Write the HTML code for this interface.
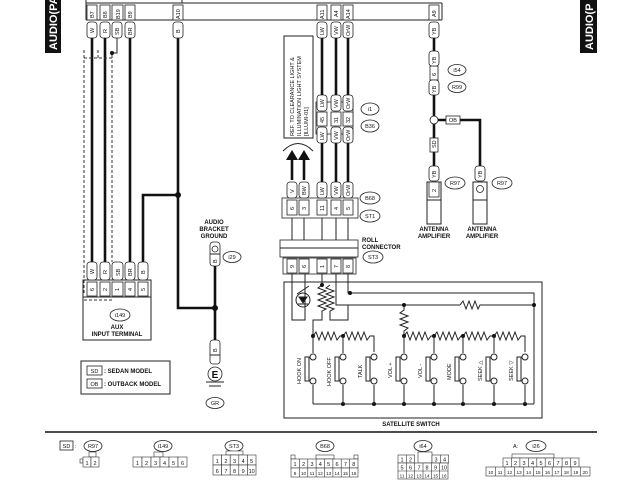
<!DOCTYPE html>
<html><head><meta charset="utf-8"><style>
html,body{margin:0;padding:0;background:#fff}
svg{display:block}
text{font-family:"Liberation Sans",sans-serif;fill:#111}
.t{font-size:6px;font-weight:bold}
.s{font-size:5.5px}
.l{fill:#fff;stroke:#222;stroke-width:0.8}
.w{stroke:#111;stroke-width:2.6;fill:none}
.n{stroke:#222;stroke-width:1;fill:none}
.g{fill:#fff;stroke:#333;stroke-width:0.6}
</style></head><body>
<svg width="640" height="480" viewBox="0 0 640 480" xmlns="http://www.w3.org/2000/svg">
<!-- side labels -->
<rect x="45" y="0" width="16" height="53" fill="#111"/>
<text transform="translate(57,50) rotate(-90)" style="font-size:11px;font-weight:bold;fill:#fff">AUDIO(PA</text>
<rect x="580" y="0" width="17" height="53" fill="#111"/>
<text transform="translate(593,50) rotate(-90)" style="font-size:11px;font-weight:bold;fill:#fff">AUDIO(P</text>

<!-- top connector bar -->
<line x1="86" y1="3" x2="442" y2="3" class="n"/>
<line x1="86" y1="20" x2="442" y2="20" class="n"/>
<line x1="86" y1="0" x2="86" y2="20" class="n"/>
<line x1="182" y1="0" x2="182" y2="3" class="n"/>
<line x1="442" y1="3" x2="442" y2="20" class="n"/>

<!-- wires -->
<g class="w">
<line x1="92" y1="38" x2="92" y2="262"/>
<line x1="105" y1="38" x2="105" y2="262"/>
<line x1="130" y1="38" x2="130" y2="262"/>
<polyline points="178,38 178,308 215,308"/>
<polyline points="178,195 143,195 143,262"/>
<line x1="215" y1="265" x2="215" y2="345"/>
<line x1="322" y1="38" x2="322" y2="182"/>
<line x1="336" y1="38" x2="336" y2="182"/>
<line x1="348" y1="38" x2="348" y2="182"/>
<line x1="434" y1="38" x2="434" y2="175"/>
<polyline points="438,120 480,120 480,175"/>
<line x1="292" y1="180" x2="292" y2="160"/>
<line x1="304" y1="180" x2="304" y2="160"/>
</g>
<polygon points="286,160 298,160 292,150" fill="#111"/>
<polygon points="298,160 310,160 304,150" fill="#111"/>
<path d="M283,151 Q298,136 313,151" class="n" stroke-width="0.6"/>
<!-- dashed SB -->
<g stroke="#333" stroke-width="1" stroke-dasharray="3,2" fill="none">
<line x1="84" y1="50" x2="84" y2="295"/>
<line x1="112" y1="55" x2="112" y2="262"/>
<polyline points="84,58 112,58"/>
<line x1="98" y1="50" x2="98" y2="58"/>
<polyline points="84,300 112,300"/>
</g>
<polyline points="117,38 117,53 112,53" class="n"/>
<circle cx="112" cy="53" r="2" fill="#111"/>
<circle cx="178" cy="195" r="3" fill="#111"/>
<circle cx="215" cy="308" r="3" fill="#111"/>

<!-- top wire labels -->
<g>
<rect x="87" y="5" width="10" height="15" class="l"/><text transform="translate(94,18) rotate(-90)" class="s">B7</text>
<rect x="100" y="5" width="10" height="15" class="l"/><text transform="translate(107,18) rotate(-90)" class="s">B8</text>
<rect x="112" y="5" width="11" height="15" class="l"/><text transform="translate(120,19) rotate(-90)" class="s">B19</text>
<rect x="125" y="5" width="10" height="15" class="l"/><text transform="translate(132,18) rotate(-90)" class="s">B9</text>
<rect x="173" y="5" width="10" height="15" class="l"/><text transform="translate(180,19) rotate(-90)" class="s">A10</text>
<rect x="317" y="5" width="10" height="15" class="l"/><text transform="translate(324,19) rotate(-90)" class="s">A11</text>
<rect x="331" y="5" width="10" height="15" class="l"/><text transform="translate(338,17) rotate(-90)" class="s">A4</text>
<rect x="343" y="5" width="10" height="15" class="l"/><text transform="translate(350,19) rotate(-90)" class="s">A14</text>
<rect x="429" y="5" width="10" height="15" class="l"/><text transform="translate(436,17) rotate(-90)" class="s">A9</text>
<rect x="87" y="22" width="10" height="16" rx="3" class="l"/><text transform="translate(94,33) rotate(-90)" class="s">W</text>
<rect x="100" y="22" width="10" height="16" rx="3" class="l"/><text transform="translate(107,33) rotate(-90)" class="s">R</text>
<rect x="112" y="22" width="10" height="16" rx="3" class="l"/><text transform="translate(119,35) rotate(-90)" class="s">SB</text>
<rect x="125" y="22" width="10" height="16" rx="3" class="l"/><text transform="translate(132,35) rotate(-90)" class="s">BR</text>
<rect x="173" y="22" width="10" height="16" rx="3" class="l"/><text transform="translate(180,33) rotate(-90)" class="s">B</text>
<rect x="317" y="22" width="10" height="16" rx="3" class="l"/><text transform="translate(324,35) rotate(-90)" class="s">LW</text>
<rect x="331" y="22" width="10" height="16" rx="3" class="l"/><text transform="translate(338,35) rotate(-90)" class="s">VW</text>
<rect x="343" y="22" width="10" height="16" rx="3" class="l"/><text transform="translate(350,36) rotate(-90)" class="s">OrW</text>
<rect x="429" y="22" width="10" height="16" rx="3" class="l"/><text transform="translate(436,35) rotate(-90)" class="s">YB</text>
</g>

<!-- ref box -->
<rect x="284" y="36" width="29" height="102" class="n" fill="#fff"/>
<text transform="translate(294,136) rotate(-90)" class="s">REF. TO CLEARANCE LIGHT &amp;</text>
<text transform="translate(301,136) rotate(-90)" class="s">ILLUMINATION LIGHT SYSTEM</text>
<text transform="translate(308,136) rotate(-90)" class="s">[ILLUMI-01]</text>

<!-- i1/B36 -->
<rect x="316" y="102" width="37" height="32" class="l"/>
<g>
<rect x="317" y="95" width="10" height="16" rx="3" class="l"/><text transform="translate(324,107) rotate(-90)" class="s">LW</text>
<rect x="331" y="95" width="10" height="16" rx="3" class="l"/><text transform="translate(338,108) rotate(-90)" class="s">VW</text>
<rect x="343" y="95" width="10" height="16" rx="3" class="l"/><text transform="translate(350,109) rotate(-90)" class="s">OrW</text>
<rect x="317" y="112" width="10" height="14" class="l"/><text transform="translate(324,123) rotate(-90)" class="s">45</text>
<rect x="331" y="112" width="10" height="14" class="l"/><text transform="translate(338,123) rotate(-90)" class="s">31</text>
<rect x="343" y="112" width="10" height="14" class="l"/><text transform="translate(350,123) rotate(-90)" class="s">32</text>
<rect x="317" y="127" width="10" height="16" rx="3" class="l"/><text transform="translate(324,140) rotate(-90)" class="s">LW</text>
<rect x="331" y="127" width="10" height="16" rx="3" class="l"/><text transform="translate(338,140) rotate(-90)" class="s">VW</text>
<rect x="343" y="127" width="10" height="16" rx="3" class="l"/><text transform="translate(350,141) rotate(-90)" class="s">OrW</text>
</g>
<ellipse cx="370" cy="109" rx="9" ry="6" class="l"/><text x="370" y="111" class="s" text-anchor="middle">i1</text>
<ellipse cx="370" cy="126" rx="9" ry="6" class="l"/><text x="370" y="128" class="s" text-anchor="middle">B36</text>

<!-- B68/ST1 -->
<rect x="282" y="198" width="76" height="20" class="l"/>
<g>
<rect x="287" y="182" width="10" height="16" rx="3" class="l"/><text transform="translate(294,193) rotate(-90)" class="s">V</text>
<rect x="299" y="182" width="10" height="16" rx="3" class="l"/><text transform="translate(306,195) rotate(-90)" class="s">BW</text>
<rect x="317" y="182" width="10" height="16" rx="3" class="l"/><text transform="translate(324,195) rotate(-90)" class="s">LW</text>
<rect x="331" y="182" width="10" height="16" rx="3" class="l"/><text transform="translate(338,195) rotate(-90)" class="s">VW</text>
<rect x="343" y="182" width="10" height="16" rx="3" class="l"/><text transform="translate(350,196) rotate(-90)" class="s">OrW</text>
<rect x="287" y="200" width="10" height="15" class="l"/><text transform="translate(294,210) rotate(-90)" class="s">6</text>
<rect x="299" y="200" width="10" height="15" class="l"/><text transform="translate(306,210) rotate(-90)" class="s">3</text>
<rect x="317" y="200" width="10" height="15" class="l"/><text transform="translate(324,211) rotate(-90)" class="s">11</text>
<rect x="331" y="200" width="10" height="15" class="l"/><text transform="translate(338,210) rotate(-90)" class="s">4</text>
<rect x="343" y="200" width="10" height="15" class="l"/><text transform="translate(350,210) rotate(-90)" class="s">5</text>
</g>
<ellipse cx="370" cy="198" rx="10" ry="6" class="l"/><text x="370" y="200" class="s" text-anchor="middle">B68</text>
<ellipse cx="370" cy="216" rx="10" ry="6" class="l"/><text x="370" y="218" class="s" text-anchor="middle">ST1</text>
<g class="n"><line x1="292" y1="218" x2="292" y2="240"/><line x1="304" y1="218" x2="304" y2="240"/><line x1="322" y1="218" x2="322" y2="240"/><line x1="336" y1="218" x2="336" y2="240"/><line x1="348" y1="218" x2="348" y2="240"/></g>
<rect x="280" y="240" width="78" height="17" class="l"/><line x1="280" y1="248" x2="358" y2="248" class="n"/>
<text x="362" y="242" class="t">ROLL</text><text x="362" y="249" class="t">CONNECTOR</text>
<ellipse cx="373" cy="257" rx="10" ry="6" class="l"/><text x="373" y="259" class="s" text-anchor="middle">ST3</text>
<rect x="283" y="258" width="73" height="16" class="l"/>
<g>
<rect x="287" y="259" width="10" height="14" class="l"/><text transform="translate(294,268) rotate(-90)" class="s">9</text>
<rect x="299" y="259" width="10" height="14" class="l"/><text transform="translate(306,268) rotate(-90)" class="s">6</text>
<rect x="317" y="259" width="10" height="14" class="l"/><text transform="translate(324,268) rotate(-90)" class="s">1</text>
<rect x="331" y="259" width="10" height="14" class="l"/><text transform="translate(338,268) rotate(-90)" class="s">7</text>
<rect x="343" y="259" width="10" height="14" class="l"/><text transform="translate(350,268) rotate(-90)" class="s">8</text>
</g>

<!-- satellite switch -->
<rect x="284" y="282" width="258" height="136" class="n"/>
<text x="411" y="426" class="t" text-anchor="middle">SATELLITE SWITCH</text>
<g class="n">
<polyline points="292,274 292,320 305,320 305,274"/>
<circle cx="303" cy="300" r="7"/>
<polygon points="299,297 307,297 303,303" fill="#111"/>
<line x1="298" y1="304" x2="308" y2="304"/>
<line x1="297" y1="294" x2="309" y2="286"/>
<polyline points="348,274 348,293 534,293 534,404"/>
<polyline points="336,274 336,305 460,305"/>
<polyline points="460,305 463,301 466,309 469,301 472,309 475,301 478,309 480,305 534,305"/>
<polyline points="322,274 322,285 318,288 326,291 318,294 326,297 318,300 326,303 318,306 326,309 322,311 322,320 313,320 313,336"/>
<polyline points="330,285 326,288 334,291 326,294 334,297 326,300 334,303 326,306 334,309 330,311 330,320 348,320 348,305"/>
<polyline points="404,305 404,310 400,313 408,316 400,319 408,322 400,325 408,328 404,331 404,336"/>
<polyline points="313,336 316,332 319,340 322,332 325,340 328,332 331,340 334,332 337,340 340,336 343,336"/>
<polyline points="343,336 346,332 349,340 352,332 355,340 358,332 361,340 364,332 367,340 370,336 374,336 374,352"/>
<polyline points="404,336 407,332 410,340 413,332 416,340 419,332 422,340 425,332 428,340 431,336 434,336"/>
<polyline points="434,336 437,332 440,340 443,332 446,340 449,332 452,340 455,332 458,340 461,336 463,336"/>
<polyline points="463,336 466,332 469,340 472,332 475,340 478,332 481,340 484,332 487,340 490,336 494,336"/>
<polyline points="494,336 497,332 500,340 503,332 506,340 509,332 512,340 515,332 518,340 521,336 525,336 525,352"/>
<line x1="313" y1="404" x2="534" y2="404"/>
</g>
<g fill="#111">
<circle cx="350" cy="293" r="2"/><circle cx="534" cy="305" r="2"/><circle cx="404" cy="305" r="2"/><circle cx="322" cy="285" r="2"/>
<circle cx="313" cy="336" r="2"/><circle cx="343" cy="336" r="2"/><circle cx="404" cy="336" r="2"/><circle cx="434" cy="336" r="2"/><circle cx="463" cy="336" r="2"/><circle cx="494" cy="336" r="2"/>
<circle cx="343" cy="404" r="2"/><circle cx="374" cy="404" r="2"/><circle cx="404" cy="404" r="2"/><circle cx="434" cy="404" r="2"/><circle cx="463" cy="404" r="2"/><circle cx="494" cy="404" r="2"/><circle cx="525" cy="404" r="2"/>
</g>
<!-- switches -->
<g class="n">
<line x1="313" y1="336" x2="313" y2="353"/><line x1="313" y1="385" x2="313" y2="404"/><circle cx="313" cy="357" r="3" fill="#fff"/><circle cx="313" cy="381" r="3" fill="#fff"/><rect x="305" y="357" width="4" height="24"/>
<line x1="343" y1="336" x2="343" y2="353"/><line x1="343" y1="385" x2="343" y2="404"/><circle cx="343" cy="357" r="3" fill="#fff"/><circle cx="343" cy="381" r="3" fill="#fff"/><rect x="335" y="357" width="4" height="24"/>
<line x1="374" y1="385" x2="374" y2="404"/><circle cx="374" cy="357" r="3" fill="#fff"/><circle cx="374" cy="381" r="3" fill="#fff"/><rect x="366" y="357" width="4" height="24"/>
<line x1="404" y1="336" x2="404" y2="353"/><line x1="404" y1="385" x2="404" y2="404"/><circle cx="404" cy="357" r="3" fill="#fff"/><circle cx="404" cy="381" r="3" fill="#fff"/><rect x="396" y="357" width="4" height="24"/>
<line x1="434" y1="336" x2="434" y2="353"/><line x1="434" y1="385" x2="434" y2="404"/><circle cx="434" cy="357" r="3" fill="#fff"/><circle cx="434" cy="381" r="3" fill="#fff"/><rect x="426" y="357" width="4" height="24"/>
<line x1="463" y1="336" x2="463" y2="353"/><line x1="463" y1="385" x2="463" y2="404"/><circle cx="463" cy="357" r="3" fill="#fff"/><circle cx="463" cy="381" r="3" fill="#fff"/><rect x="455" y="357" width="4" height="24"/>
<line x1="494" y1="336" x2="494" y2="353"/><line x1="494" y1="385" x2="494" y2="404"/><circle cx="494" cy="357" r="3" fill="#fff"/><circle cx="494" cy="381" r="3" fill="#fff"/><rect x="486" y="357" width="4" height="24"/>
<line x1="525" y1="385" x2="525" y2="404"/><circle cx="525" cy="357" r="3" fill="#fff"/><circle cx="525" cy="381" r="3" fill="#fff"/><rect x="517" y="357" width="4" height="24"/>
</g>
<text transform="translate(301,384) rotate(-90)" class="s">HOOK ON</text>
<text transform="translate(331,386) rotate(-90)" class="s">HOOK OFF</text>
<text transform="translate(362,378) rotate(-90)" class="s">TALK</text>
<text transform="translate(392,378) rotate(-90)" class="s">VOL +</text>
<text transform="translate(422,378) rotate(-90)" class="s">VOL -</text>
<text transform="translate(451,380) rotate(-90)" class="s">MODE</text>
<text transform="translate(482,381) rotate(-90)" class="s">SEEK △</text>
<text transform="translate(513,381) rotate(-90)" class="s">SEEK ▽</text>

<!-- antenna -->
<rect x="430" y="66" width="8" height="14" class="l" stroke-width="1.4"/><text transform="translate(436,76) rotate(-90)" class="s">6</text>
<rect x="429" y="51" width="10" height="15" rx="3" class="l"/><text transform="translate(436,64) rotate(-90)" class="s">YB</text>
<rect x="429" y="80" width="10" height="15" rx="3" class="l"/><text transform="translate(436,93) rotate(-90)" class="s">YB</text>
<ellipse cx="457" cy="70" rx="9" ry="5.5" class="l"/><text x="457" y="72" class="s" text-anchor="middle">i54</text>
<ellipse cx="457" cy="87" rx="9" ry="5.5" class="l"/><text x="457" y="89" class="s" text-anchor="middle">R99</text>
<circle cx="434" cy="120" r="4" class="l"/>
<rect x="446" y="116" width="14" height="8" class="l"/><text x="453" y="122" class="s" text-anchor="middle">OB</text>
<rect x="430" y="138" width="8" height="14" class="l" stroke-width="1.2"/><text transform="translate(436,148) rotate(-90)" class="s">SD</text>
<rect x="429" y="166" width="10" height="15" rx="3" class="l"/><text transform="translate(436,178) rotate(-90)" class="s">YB</text>
<rect x="475" y="166" width="10" height="15" rx="3" class="l"/><text transform="translate(482,178) rotate(-90)" class="s">YB</text>
<rect x="427" y="182" width="14" height="42" class="n" fill="#fff"/><rect x="429" y="182" width="10" height="15" class="l"/><text transform="translate(436,192) rotate(-90)" class="s">2</text>
<rect x="473" y="182" width="14" height="42" class="n" fill="#fff"/><circle cx="480" cy="189" r="3.5" class="l"/>
<line x1="427" y1="200" x2="441" y2="200" class="n"/><line x1="473" y1="200" x2="487" y2="200" class="n"/>
<ellipse cx="455" cy="183" rx="10" ry="6" class="l"/><text x="455" y="185" class="s" text-anchor="middle">R97</text>
<ellipse cx="502" cy="183" rx="10" ry="6" class="l"/><text x="502" y="185" class="s" text-anchor="middle">R97</text>
<text x="434" y="231" class="t" text-anchor="middle">ANTENNA</text><text x="434" y="238" class="t" text-anchor="middle">AMPLIFIER</text>
<text x="482" y="231" class="t" text-anchor="middle">ANTENNA</text><text x="482" y="238" class="t" text-anchor="middle">AMPLIFIER</text>

<!-- i149 block -->
<rect x="83" y="280" width="68" height="60" class="n" fill="#fff"/>
<line x1="83" y1="297" x2="151" y2="297" class="n"/>
<g>
<rect x="87" y="262" width="10" height="18" rx="3" class="l"/><text transform="translate(94,274) rotate(-90)" class="s">W</text>
<rect x="100" y="262" width="10" height="18" rx="3" class="l"/><text transform="translate(107,274) rotate(-90)" class="s">R</text>
<rect x="112" y="262" width="11" height="18" rx="3" class="l"/><text transform="translate(120,276) rotate(-90)" class="s">SB</text>
<rect x="125" y="262" width="10" height="18" rx="3" class="l"/><text transform="translate(132,276) rotate(-90)" class="s">BR</text>
<rect x="138" y="262" width="10" height="18" rx="3" class="l"/><text transform="translate(145,274) rotate(-90)" class="s">B</text>
<rect x="87" y="282" width="10" height="14" class="l"/><text transform="translate(94,291) rotate(-90)" class="s">6</text>
<rect x="100" y="282" width="10" height="14" class="l"/><text transform="translate(107,291) rotate(-90)" class="s">2</text>
<rect x="112" y="282" width="11" height="14" class="l"/><text transform="translate(119,291) rotate(-90)" class="s">1</text>
<rect x="125" y="282" width="10" height="14" class="l"/><text transform="translate(132,291) rotate(-90)" class="s">4</text>
<rect x="138" y="282" width="10" height="14" class="l"/><text transform="translate(145,291) rotate(-90)" class="s">5</text>
</g>
<ellipse cx="120" cy="315" rx="10" ry="6" class="l"/><text x="120" y="317" class="s" text-anchor="middle">i149</text>
<text x="117" y="329" class="t" text-anchor="middle">AUX</text>
<text x="117" y="336" class="t" text-anchor="middle">INPUT TERMINAL</text>

<!-- legend -->
<rect x="81" y="361" width="89" height="33" class="n" stroke-width="0.8"/>
<rect x="87" y="366" width="15" height="9" class="l"/><text x="94.5" y="373" class="s" text-anchor="middle">SD</text><text x="104" y="373" class="t">: SEDAN MODEL</text>
<rect x="87" y="379" width="15" height="9" class="l"/><text x="94.5" y="386" class="s" text-anchor="middle">OB</text><text x="104" y="386" class="t">: OUTBACK MODEL</text>

<!-- ground -->
<text x="214" y="224" class="t" text-anchor="middle">AUDIO</text>
<text x="214" y="231" class="t" text-anchor="middle">BRACKET</text>
<text x="214" y="238" class="t" text-anchor="middle">GROUND</text>
<rect x="210" y="242" width="10" height="24" rx="3" class="l"/><circle cx="215" cy="249" r="3" class="l"/><line x1="210" y1="254" x2="220" y2="254" class="n"/><text transform="translate(217,263) rotate(-90)" class="s">B</text>
<ellipse cx="232" cy="257" rx="9" ry="5.5" class="l"/><text x="232" y="259" class="s" text-anchor="middle">i29</text>
<rect x="210" y="340" width="10" height="24" rx="3" class="l"/><line x1="210" y1="355" x2="220" y2="355" class="n"/><text transform="translate(217,352) rotate(-90)" class="s">B</text>
<circle cx="215" cy="374" r="7" class="l" stroke-width="1.2"/><text x="215" y="378" style="font-size:10px;font-weight:bold" text-anchor="middle">E</text>
<line x1="206" y1="382" x2="224" y2="382" class="n"/><line x1="209" y1="386" x2="221" y2="386" class="n"/>
<ellipse cx="215" cy="403" rx="9" ry="5.5" class="l"/><text x="215" y="405" class="s" text-anchor="middle">GR</text>

<!-- bottom rule -->
<line x1="45" y1="432" x2="597" y2="432" stroke="#111" stroke-width="1.5"/>

<!-- bottom connectors -->
<rect x="60" y="441" width="13" height="9" class="l"/><text x="66.5" y="448" class="s" text-anchor="middle">SD</text><text x="75" y="448" class="s">:</text>
<ellipse cx="93" cy="446" rx="9" ry="5.5" class="l"/><text x="93" y="448" class="s" text-anchor="middle">R97</text>
<rect x="89" y="452" width="7" height="5" class="g"/><rect x="80" y="459" width="3" height="4" class="g"/>
<rect x="83" y="457" width="8" height="10" class="g"/><rect x="91" y="457" width="8" height="10" class="g"/>
<text x="87" y="465" class="s" text-anchor="middle">1</text><text x="95" y="465" class="s" text-anchor="middle">2</text>

<ellipse cx="163" cy="446" rx="9" ry="5.5" class="l"/><text x="163" y="448" class="s" text-anchor="middle">i149</text>
<rect x="154" y="452" width="9" height="5" class="g"/>
<g><rect x="133" y="457" width="9" height="10" class="g"/><rect x="142" y="457" width="9" height="10" class="g"/><rect x="151" y="457" width="9" height="10" class="g"/><rect x="160" y="457" width="9" height="10" class="g"/><rect x="169" y="457" width="9" height="10" class="g"/><rect x="178" y="457" width="9" height="10" class="g"/></g>
<text y="465" class="s" text-anchor="middle"><tspan x="137.5">1</tspan><tspan x="146.5">2</tspan><tspan x="155.5">3</tspan><tspan x="164.5">4</tspan><tspan x="173.5">5</tspan><tspan x="182.5">6</tspan></text>

<ellipse cx="234" cy="446" rx="9" ry="5.5" class="l"/><text x="234" y="448" class="s" text-anchor="middle">ST3</text>
<rect x="226" y="451" width="17" height="4" class="g" stroke-width="1"/>
<g><rect x="213" y="455" width="8.6" height="10" class="g"/><rect x="221.6" y="455" width="8.6" height="10" class="g"/><rect x="230.2" y="455" width="8.6" height="10" class="g"/><rect x="238.8" y="455" width="8.6" height="10" class="g"/><rect x="247.4" y="455" width="8.6" height="10" class="g"/>
<rect x="213" y="465" width="8.6" height="10" class="g"/><rect x="221.6" y="465" width="8.6" height="10" class="g"/><rect x="230.2" y="465" width="8.6" height="10" class="g"/><rect x="238.8" y="465" width="8.6" height="10" class="g"/><rect x="247.4" y="465" width="8.6" height="10" class="g"/></g>
<text y="463" class="s" text-anchor="middle"><tspan x="217.3">1</tspan><tspan x="225.9">2</tspan><tspan x="234.5">3</tspan><tspan x="243.1">4</tspan><tspan x="251.7">5</tspan></text>
<text y="473" class="s" text-anchor="middle"><tspan x="217.3">6</tspan><tspan x="225.9">7</tspan><tspan x="234.5">8</tspan><tspan x="243.1">9</tspan><tspan x="251.7">10</tspan></text>

<ellipse cx="325" cy="446" rx="9" ry="5.5" class="l"/><text x="325" y="448" class="s" text-anchor="middle">B68</text>
<rect x="291" y="455" width="4" height="4" class="g"/><rect x="354" y="455" width="4" height="4" class="g"/><rect x="316" y="455" width="18" height="4" class="g"/>
<g fill="#fff" stroke="#333" stroke-width="0.6">
<rect x="291" y="459" width="67" height="9"/><rect x="291" y="468" width="67" height="9"/>
<path d="M299.4,459V477M307.8,459V477M316.1,459V477M324.5,459V477M332.9,459V477M341.2,459V477M349.6,459V477"/></g>
<text y="466" class="s" text-anchor="middle"><tspan x="295">1</tspan><tspan x="303.5">2</tspan><tspan x="312">3</tspan><tspan x="320.3">4</tspan><tspan x="328.7">5</tspan><tspan x="337">6</tspan><tspan x="345.4">7</tspan><tspan x="353.8">8</tspan></text>
<text y="475" style="font-size:4.6px" text-anchor="middle"><tspan x="295">9</tspan><tspan x="303.5">10</tspan><tspan x="312">11</tspan><tspan x="320.3">12</tspan><tspan x="328.7">13</tspan><tspan x="337">14</tspan><tspan x="345.4">15</tspan><tspan x="353.8">16</tspan></text>

<ellipse cx="423" cy="446" rx="9" ry="5.5" class="l"/><text x="423" y="448" class="s" text-anchor="middle">i64</text>
<g fill="#fff" stroke="#333" stroke-width="0.6">
<rect x="398" y="455" width="16.6" height="8"/><path d="M406.3,455V463"/>
<rect x="418" y="452" width="14" height="11"/>
<rect x="432" y="455" width="16.6" height="8"/><path d="M440.3,455V463"/>
<rect x="398" y="463" width="50" height="16"/><path d="M398,471H448M406.3,463V479M414.6,463V479M423,463V479M431.3,463V479M439.6,463V479"/></g>
<text y="461.5" class="s" text-anchor="middle"><tspan x="402">1</tspan><tspan x="410.5">2</tspan><tspan x="436">3</tspan><tspan x="444.5">4</tspan></text>
<text y="469.5" class="s" text-anchor="middle"><tspan x="402">5</tspan><tspan x="410.5">6</tspan><tspan x="419">7</tspan><tspan x="427">8</tspan><tspan x="435.5">9</tspan><tspan x="444">10</tspan></text>
<text y="477.5" style="font-size:4.6px" text-anchor="middle"><tspan x="402">11</tspan><tspan x="410.5">12</tspan><tspan x="419">13</tspan><tspan x="427">14</tspan><tspan x="435.5">15</tspan><tspan x="444">16</tspan></text>

<text x="513" y="448" class="s">A:</text>
<ellipse cx="536" cy="446" rx="10" ry="5.5" class="l"/><text x="536" y="448" class="s" text-anchor="middle">i26</text>
<g fill="#fff" stroke="#333" stroke-width="0.6">
<rect x="512" y="454" width="42" height="4"/>
<rect x="503" y="458" width="76" height="9"/><path d="M511.4,458V467M519.9,458V467M528.3,458V467M536.8,458V467M545.2,458V467M553.7,458V467M562.1,458V467M570.6,458V467"/>
<rect x="486" y="467" width="104" height="9"/><path d="M495.5,467V476M504.9,467V476M514.4,467V476M523.8,467V476M533.3,467V476M542.7,467V476M552.2,467V476M561.6,467V476M571.1,467V476M580.5,467V476"/></g>
<text y="465" class="s" text-anchor="middle"><tspan x="507">1</tspan><tspan x="515.5">2</tspan><tspan x="524">3</tspan><tspan x="532.5">4</tspan><tspan x="541">5</tspan><tspan x="549.5">6</tspan><tspan x="558">7</tspan><tspan x="566.5">8</tspan><tspan x="575">9</tspan></text>
<text y="474" style="font-size:4.6px" text-anchor="middle"><tspan x="490.7">10</tspan><tspan x="500.2">11</tspan><tspan x="509.6">12</tspan><tspan x="519.1">13</tspan><tspan x="528.5">14</tspan><tspan x="538">15</tspan><tspan x="547.4">16</tspan><tspan x="556.9">17</tspan><tspan x="566.3">18</tspan><tspan x="575.8">19</tspan><tspan x="585.2">20</tspan></text>
</svg>
</body></html>
